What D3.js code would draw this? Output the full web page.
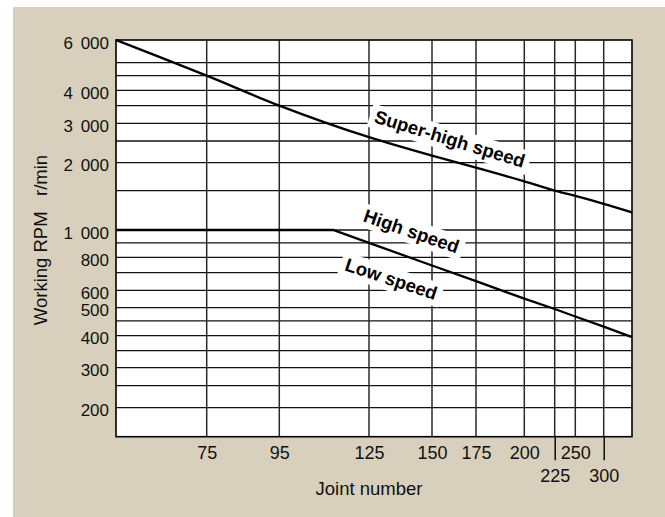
<!DOCTYPE html>
<html>
<head>
<meta charset="utf-8">
<script src="https://cdn.jsdelivr.net/npm/d3@7"></script>
<style>
  body { margin: 0; background: #fff; }
  svg { display: block; font-family: "Liberation Sans", Arial, Helvetica, sans-serif; }
</style>
</head>
<body>
<div id="chart"></div>
<script>
// Data
const superHighJoint = [50, 75, 95, 125, 150, 175, 200, 225, 250, 300, 350];
const superHighRpm   = [6000, 4500, 3500, 2600, 2150, 1900, 1650, 1500, 1420, 1310, 1200];
const highLowJoint   = [50, 113, 125, 150, 175, 200, 225, 250, 300, 350];
const highLowRpm     = [1000, 1000, 900, 745, 650, 550, 495, 466, 430, 395];

const yTickValues = [200, 300, 400, 500, 600, 800, 1000, 2000, 3000, 4000, 6000];
const yGridValues = [200, 250, 300, 350, 400, 450, 500, 600, 700, 800, 900, 1000,
                     1500, 2000, 2500, 3000, 3500, 4000, 4500, 5000];
const xGridValues = [75, 95, 125, 150, 175, 200, 225, 250, 300];
const xTickRow1 = [75, 95, 125, 150, 175, 200, 250];
const xTickRow2 = [225, 300];

const curveLabels = ["Super-high speed", "High speed", "Low speed"];
const labelJoint  = [159, 141, 133];
const labelRpm    = [2400, 942, 628];

// layout
const W = 665, H = 517;
const plot = { left: 116, top: 40, right: 632, bottom: 436.7 };

// the printed axes are not uniform, so both scales are calibrated piecewise
const xKnots = [50, 75, 95, 125, 150, 175, 200, 225, 250, 300, 350];
const xKnotOffset = [0, 90.7, 163.3, 253, 316, 360, 408.3, 438.7, 459.3, 487.7, 516];
const x = d3.scaleLinear()
  .domain(xKnots)
  .range(xKnotOffset.map(d => plot.left + d));

const yKnots = [150, 200, 300, 400, 500, 600, 800, 1000, 2000, 3000, 4000, 6000];
const yKnotOffset = [396.7, 367.7, 327.7, 295.7, 267.7, 250.3, 217.3, 190, 122.7, 83.3, 50.3, 0];
const y = d3.scaleLog()
  .domain(yKnots)
  .range(yKnotOffset.map(d => plot.top + d));

const svg = d3.select("#chart").append("svg")
  .attr("width", W)
  .attr("height", H);

svg.append("rect")
  .attr("x", 13).attr("y", 7)
  .attr("width", W - 13).attr("height", H - 7)
  .attr("fill", "#d8d0bc");

svg.append("rect")
  .attr("x", plot.left).attr("y", plot.top)
  .attr("width", plot.right - plot.left).attr("height", plot.bottom - plot.top)
  .attr("fill", "#fff");

// grid
const grid = svg.append("g");
grid.selectAll("line.h")
  .data(yGridValues)
  .enter().append("line")
  .attr("class", "h")
  .attr("x1", plot.left).attr("x2", plot.right)
  .attr("y1", d => y(d)).attr("y2", d => y(d))
  .attr("stroke", "#111")
  .attr("stroke-width", 1.3);

grid.selectAll("line.v")
  .data(xGridValues)
  .enter().append("line")
  .attr("class", "v")
  .attr("y1", plot.top).attr("y2", plot.bottom)
  .attr("x1", d => x(d)).attr("x2", d => x(d))
  .attr("stroke", "#2a2a2a")
  .attr("stroke-width", 1.5);

const boxLayer = svg.append("g");

// curves
const line = d3.line()
  .x(d => x(d[0]))
  .y(d => y(d[1]));

svg.append("path")
  .datum(d3.zip(superHighJoint, superHighRpm))
  .attr("d", line.curve(d3.curveMonotoneX))
  .attr("fill", "none")
  .attr("stroke", "#000")
  .attr("stroke-width", 2.3);

svg.append("path")
  .datum(d3.zip(highLowJoint, highLowRpm))
  .attr("d", line.curve(d3.curveLinear))
  .attr("fill", "none")
  .attr("stroke", "#000")
  .attr("stroke-width", 2.3);

// border
svg.append("rect")
  .attr("x", plot.left).attr("y", plot.top)
  .attr("width", plot.right - plot.left).attr("height", plot.bottom - plot.top)
  .attr("fill", "none")
  .attr("stroke", "#000")
  .attr("stroke-width", 1.6);

// curve labels with white knock-out boxes
const angles = [17, 19, 18.4];
curveLabels.forEach((txt, i) => {
  const tr = `translate(${x(labelJoint[i])},${y(labelRpm[i])}) rotate(${angles[i]})`;
  const t = svg.append("text")
    .attr("transform", tr)
    .attr("text-anchor", "middle")
    .attr("font-size", 18.5)
    .attr("font-weight", "bold")
    .attr("fill", "#000")
    .text(txt);
  const bb = t.node().getBBox();
  boxLayer.append("rect")
    .attr("transform", tr)
    .attr("x", bb.x - 5).attr("y", bb.y - 1)
    .attr("width", bb.width + 10).attr("height", bb.height + 3)
    .attr("fill", "#fff");
});

// y axis
const fmt = d3.formatLocale({ decimal: ".", thousands: " ", grouping: [3], currency: ["", ""] }).format(",");
const yAxis = svg.append("g")
  .attr("transform", `translate(${plot.left},0)`)
  .call(d3.axisLeft(y).tickValues(yTickValues).tickSize(0).tickPadding(7).tickFormat(fmt));
yAxis.select(".domain").remove();
yAxis.selectAll("text")
  .attr("font-size", 17)
  .attr("font-family", null)
  .attr("dy", "0.48em")
  .attr("fill", "#111")
  .attr("word-spacing", 3);

// x axis, two rows
const xAxis1 = svg.append("g")
  .attr("transform", `translate(0,${plot.bottom})`)
  .call(d3.axisBottom(x).tickValues(xTickRow1).tickSize(0).tickPadding(9.5));
xAxis1.select(".domain").remove();
xAxis1.selectAll("text").attr("font-size", 18).attr("font-family", null).attr("fill", "#111");

const xAxis2 = svg.append("g")
  .attr("transform", `translate(0,${plot.bottom})`)
  .call(d3.axisBottom(x).tickValues(xTickRow2).tickSize(23.5).tickPadding(9));
xAxis2.select(".domain").remove();
xAxis2.selectAll("line").attr("stroke", "#000").attr("stroke-width", 1.4);
xAxis2.selectAll("text").attr("font-size", 18).attr("font-family", null).attr("fill", "#111");

// axis titles
svg.append("text")
  .attr("x", 369).attr("y", 495)
  .attr("text-anchor", "middle")
  .attr("font-size", 18.5)
  .attr("fill", "#111")
  .text("Joint number");

svg.append("text")
  .attr("transform", "translate(47,240) rotate(-90)")
  .attr("text-anchor", "middle")
  .attr("font-size", 18.5)
  .attr("fill", "#111")
  .style("white-space", "pre")
  .text("Working RPM   r/min");
</script>
</body>
</html>
